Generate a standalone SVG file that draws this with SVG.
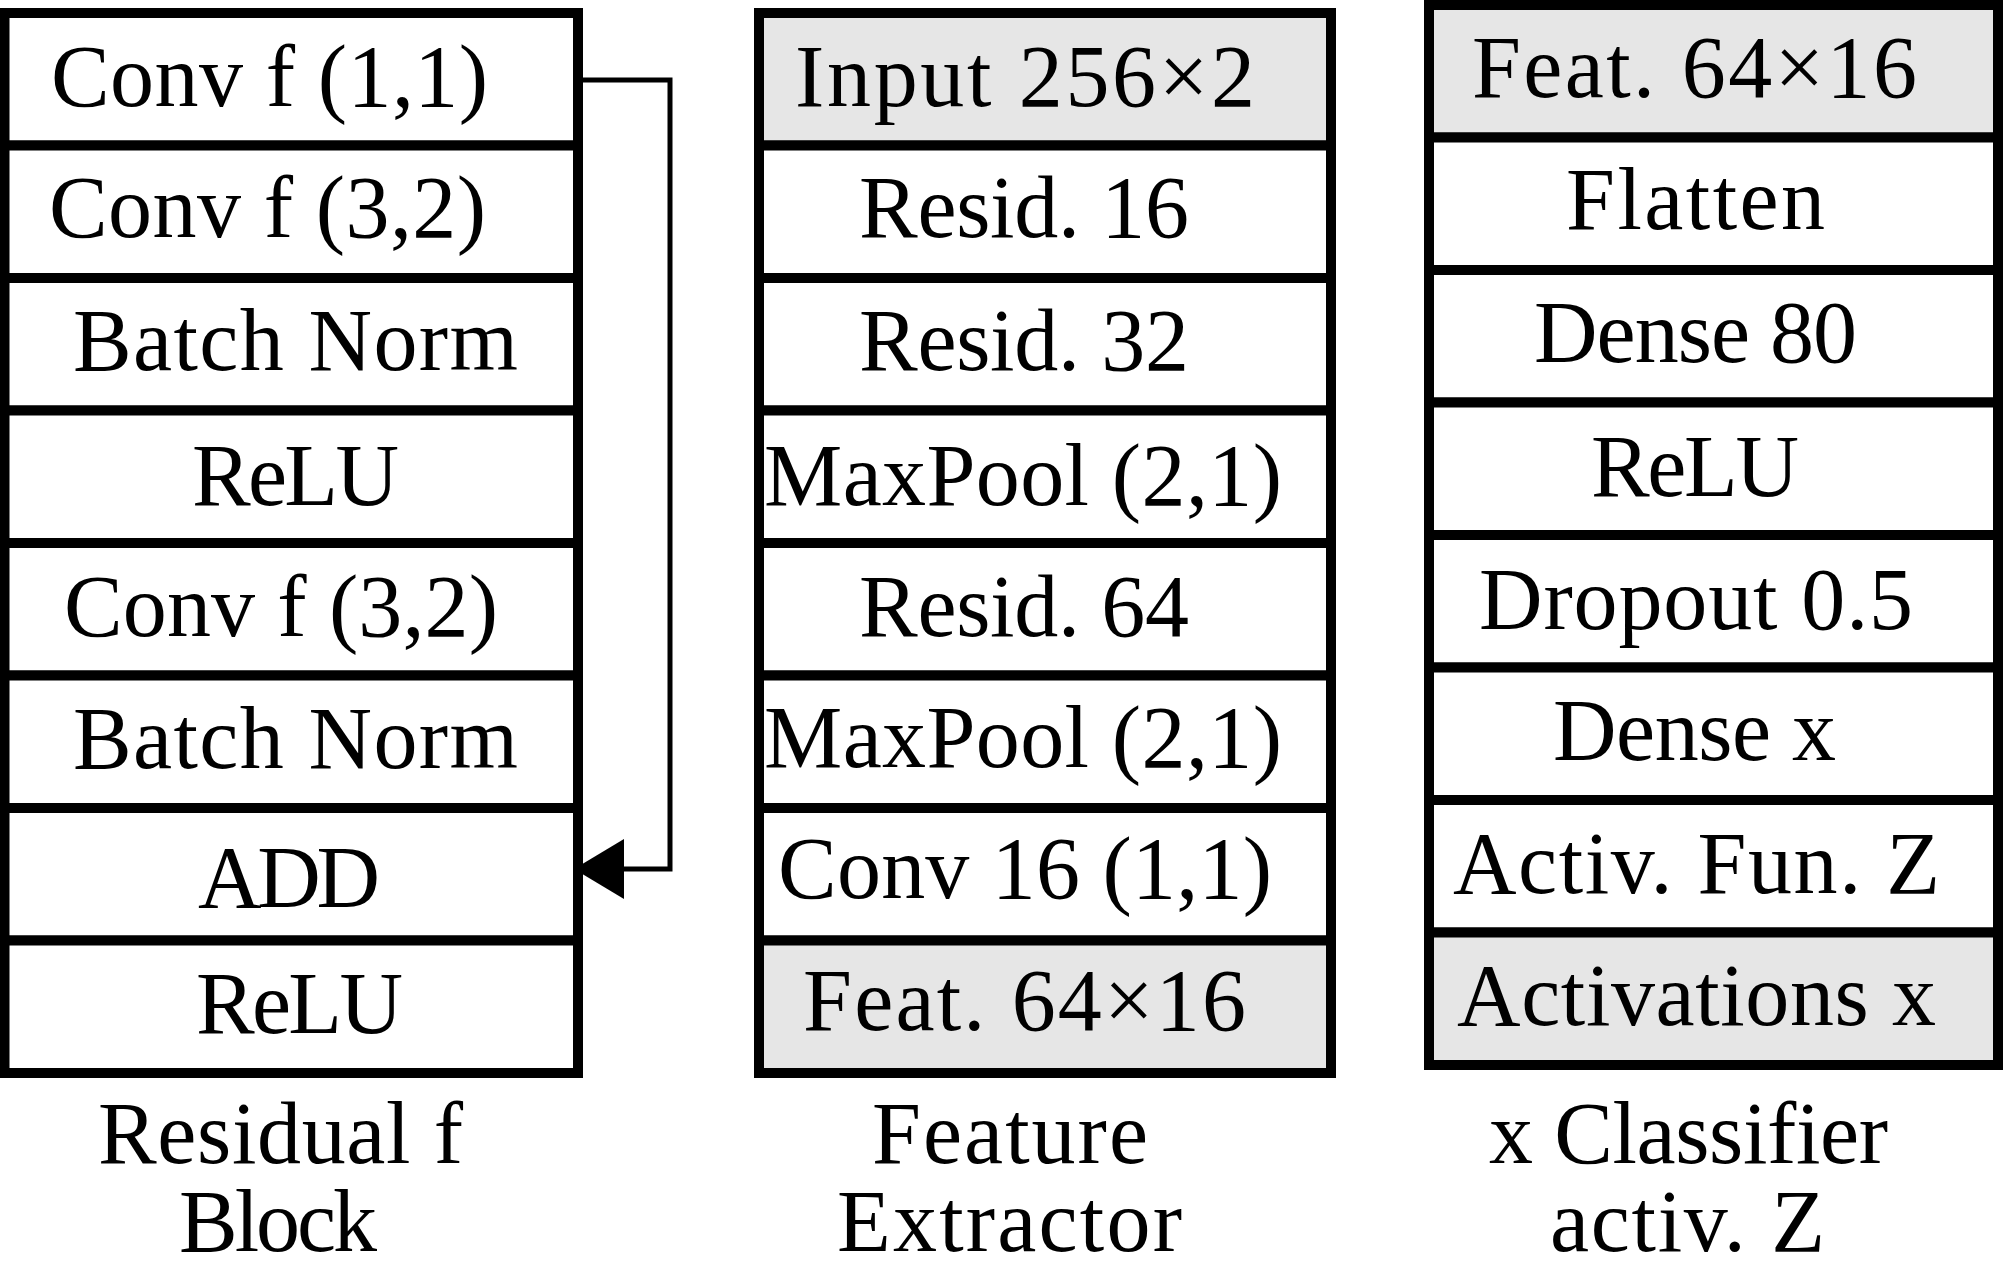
<svg xmlns="http://www.w3.org/2000/svg" width="2004" height="1268" viewBox="0 0 2004 1268">
<defs>
<style>
.row{fill:#ffffff;stroke:#000000;stroke-width:10}
.gray{fill:#e6e6e6}
text{font-family:"Liberation Serif","Times New Roman",serif;font-size:88px;fill:#000000;text-anchor:middle}
.conn{fill:none;stroke:#000000;stroke-width:5}
</style>
<marker id="ah" markerUnits="userSpaceOnUse" markerWidth="50" markerHeight="60" refX="50" refY="30" orient="auto">
<path d="M0,0 L50,30 L0,60 Z" fill="#000000"/>
</marker>
</defs>
<rect width="2004" height="1268" fill="#ffffff"/>

<g id="residual-block">
<g id="res-conv1"><rect class="row" x="4.5" y="13" width="573.5" height="132.5"/><text x="269.5" y="106" textLength="437">Conv f (1,1)</text></g>
<g id="res-conv2"><rect class="row" x="4.5" y="145.5" width="573.5" height="132.5"/><text x="267.5" y="237" textLength="437">Conv f (3,2)</text></g>
<g id="res-bn1"><rect class="row" x="4.5" y="278" width="573.5" height="132.5"/><text x="295.5" y="370" textLength="445">Batch Norm</text></g>
<g id="res-relu1"><rect class="row" x="4.5" y="410.5" width="573.5" height="132.5"/><text x="295.5" y="505" textLength="207">ReLU</text></g>
<g id="res-conv3"><rect class="row" x="4.5" y="543" width="573.5" height="132.5"/><text x="281" y="636" textLength="434">Conv f (3,2)</text></g>
<g id="res-bn2"><rect class="row" x="4.5" y="675.5" width="573.5" height="132.5"/><text x="295.5" y="768" textLength="445">Batch Norm</text></g>
<g id="res-add"><rect class="row" x="4.5" y="808" width="573.5" height="132.5"/><text x="289" y="907" textLength="182">ADD</text></g>
<g id="res-relu2"><rect class="row" x="4.5" y="940.5" width="573.5" height="132.5"/><text x="299.5" y="1033" textLength="207">ReLU</text></g>
<g id="res-caption"><text x="280.5" y="1163" textLength="365">Residual f</text><text x="278" y="1251" textLength="198">Block</text></g>
</g>

<g id="feature-extractor">
<g id="fe-input"><rect class="row gray" x="759" y="13" width="572" height="132.5"/><text x="1025" y="106" textLength="460">Input 256×2</text></g>
<g id="fe-res16"><rect class="row" x="759" y="145.5" width="572" height="132.5"/><text x="1024" y="237" textLength="330">Resid. 16</text></g>
<g id="fe-res32"><rect class="row" x="759" y="278" width="572" height="132.5"/><text x="1024" y="370" textLength="330">Resid. 32</text></g>
<g id="fe-pool1"><rect class="row" x="759" y="410.5" width="572" height="132.5"/><text x="1023" y="505" textLength="518">MaxPool (2,1)</text></g>
<g id="fe-res64"><rect class="row" x="759" y="543" width="572" height="132.5"/><text x="1024" y="636" textLength="330">Resid. 64</text></g>
<g id="fe-pool2"><rect class="row" x="759" y="675.5" width="572" height="132.5"/><text x="1023" y="767" textLength="518">MaxPool (2,1)</text></g>
<g id="fe-conv"><rect class="row" x="759" y="808" width="572" height="132.5"/><text x="1025" y="898" textLength="494">Conv 16 (1,1)</text></g>
<g id="fe-feat"><rect class="row gray" x="759" y="940.5" width="572" height="132.5"/><text x="1024.5" y="1030" textLength="443">Feat. 64×16</text></g>
<g id="fe-caption"><text x="1010" y="1163" textLength="276">Feature</text><text x="1009.5" y="1251" textLength="345">Extractor</text></g>
</g>

<g id="classifier">
<g id="cl-feat"><rect class="row gray" x="1429" y="5" width="569" height="132.5"/><text x="1694.5" y="97" textLength="445">Feat. 64×16</text></g>
<g id="cl-flatten"><rect class="row" x="1429" y="137.5" width="569" height="132.5"/><text x="1695.5" y="229" textLength="259">Flatten</text></g>
<g id="cl-dense80"><rect class="row" x="1429" y="270" width="569" height="132.5"/><text x="1695.5" y="362" textLength="323">Dense 80</text></g>
<g id="cl-relu"><rect class="row" x="1429" y="402.5" width="569" height="132.5"/><text x="1695" y="496" textLength="208">ReLU</text></g>
<g id="cl-dropout"><rect class="row" x="1429" y="535" width="569" height="132.5"/><text x="1696" y="629" textLength="434">Dropout 0.5</text></g>
<g id="cl-densex"><rect class="row" x="1429" y="667.5" width="569" height="132.5"/><text x="1694.5" y="760" textLength="283">Dense x</text></g>
<g id="cl-activ"><rect class="row" x="1429" y="800" width="569" height="132.5"/><text x="1696.5" y="893" textLength="487">Activ. Fun. Z</text></g>
<g id="cl-out"><rect class="row gray" x="1429" y="932.5" width="569" height="132.5"/><text x="1696.5" y="1025" textLength="479">Activations x</text></g>
<g id="cl-caption"><text x="1688.5" y="1163" textLength="399">x Classifier</text><text x="1687.5" y="1251" textLength="275">activ. Z</text></g>
</g>

<g id="connectors">
<path class="conn" d="M578,80 H670 V869 H574" marker-end="url(#ah)"/>
</g>
</svg>
